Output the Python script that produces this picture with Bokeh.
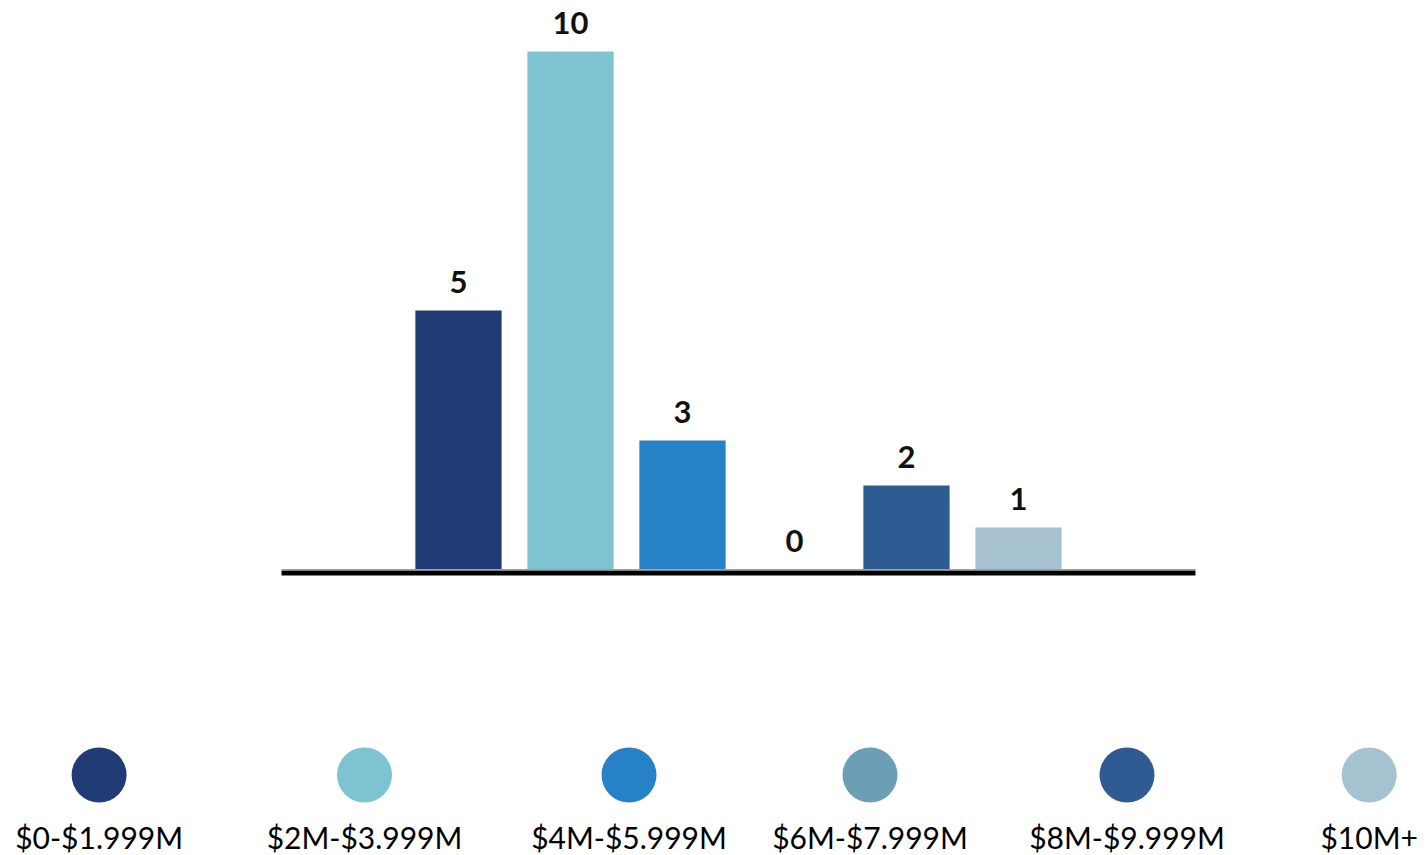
from bokeh.plotting import figure
from bokeh.models import Range1d, ColumnDataSource
from bokeh.layouts import column
from bokeh.core.properties import value
from bokeh.embed import file_html
from bokeh.resources import INLINE

# ---- data ----
categories = ["$0-$1.999M", "$2M-$3.999M", "$4M-$5.999M", "$6M-$7.999M", "$8M-$9.999M", "$10M+"]
bar_heights = [5.0, 10.0, 2.49, 0.0, 1.62, 0.81]
value_labels = ["5", "10", "3", "0", "2", "1"]
colors = ["#213C75", "#7DC3D1", "#2781C6", "#6A9FB5", "#2E5B91", "#A6C1CF"]

# ---- layout / style ----
FONT = "Lato"
W, H_TOP, H_LEG = 1428, 600, 255
legend_centers = [98.6, 364, 628.5, 869.5, 1126.5, 1368.7]  # legend item centres (px)
PX_PER_CAT = 112.0
FIRST_CENTER = 458.0
PX_PER_UNIT = 51.8
ZERO_Y = 569.0
AXIS_PAD = 1.08  # categories of padding either side of the bars for the baseline

n = len(categories)
idx = list(range(n))
src = ColumnDataSource(dict(x=idx, cat=categories, h=bar_heights, lab=value_labels, c=colors))

p = figure(
    x_range=Range1d(-FIRST_CENTER / PX_PER_CAT, (W - FIRST_CENTER) / PX_PER_CAT),
    y_range=Range1d(-(H_TOP - ZERO_Y) / PX_PER_UNIT, ZERO_Y / PX_PER_UNIT),
    width=W, height=H_TOP,
    min_border=0, min_border_left=0, min_border_right=0, min_border_top=0, min_border_bottom=0,
    output_backend="svg", toolbar_location=None,
)
p.vbar(x="x", top="h", width=0.77, color="c", line_color=None, source=src)
p.text(x="x", y="h", text="lab", source=src, text_align="center", text_baseline="alphabetic",
       y_offset=-29, text_font=value(FONT), text_font_style="bold", text_font_size="31px",
       text_color="#111111")
x0, x1 = -0.5 - AXIS_PAD, n - 0.5 + AXIS_PAD
p.segment(x0=[x0], y0=[0], x1=[x1], y1=[0], line_color="#a0a0a0", line_width=1)
p.segment(x0=[x0], y0=[-3.5 / PX_PER_UNIT], x1=[x1], y1=[-3.5 / PX_PER_UNIT],
          line_color="black", line_width=5, line_cap="butt")
p.axis.visible = False
p.xgrid.visible = False
p.ygrid.visible = False
p.outline_line_color = None

q = figure(width=W, height=H_LEG, x_range=Range1d(0, W), y_range=Range1d(0, H_LEG),
           min_border=0, min_border_left=0, min_border_right=0, min_border_top=0, min_border_bottom=0,
           output_backend="svg", toolbar_location=None)
lsrc = ColumnDataSource(dict(x=legend_centers, name=categories, c=colors))
q.scatter(x="x", y=H_LEG - (774.5 - H_TOP), size=55, marker="circle", color="c", line_color=None, source=lsrc)
q.text(x="x", y=H_LEG - (847 - H_TOP) + 11, text="name", source=lsrc, text_align="center",
       text_baseline="alphabetic", text_font=value(FONT), text_font_size="30px", text_color="#000000")
q.axis.visible = False
q.xgrid.visible = False
q.ygrid.visible = False
q.outline_line_color = None

layout = column(p, q, spacing=0)
open("out.html", "w").write(file_html(layout, INLINE))
